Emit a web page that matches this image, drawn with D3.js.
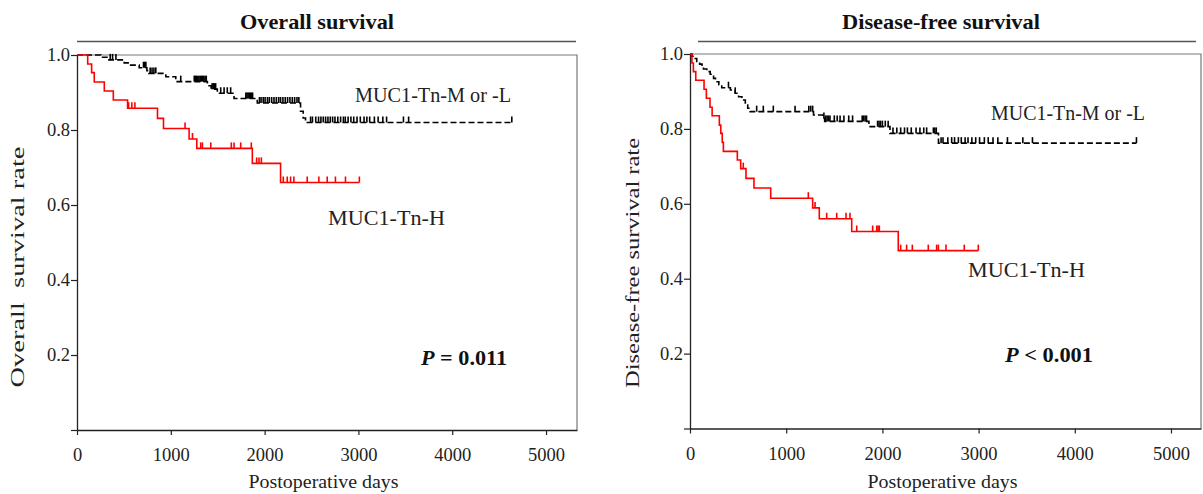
<!DOCTYPE html>
<html>
<head>
<meta charset="utf-8">
<script src="https://cdn.jsdelivr.net/npm/d3@7/dist/d3.min.js"></script>
<style>
  body { margin: 0; background: #fff; }
  svg { display: block; font-family: "Liberation Serif", "Times New Roman", serif; }
</style>
</head>
<body>
<div id="chart"></div>
<script>
// ---- data (days, survival rate) ----
// Overall survival
const os_high_times = [114, 156, 184, 291, 387, 539, 858, 922, 1195, 1277, 1869, 2170]
const os_high_surv  = [0.976, 0.953, 0.928, 0.904, 0.88, 0.858, 0.831, 0.804, 0.776, 0.751, 0.711, 0.66]
const os_high_censor = [550, 585, 617, 1152, 1231, 1319, 1337, 1426, 1645, 1674, 1745, 1858, 1915, 1940, 1965,
                        2199, 2241, 2277, 2312, 2454, 2578, 2667, 2755, 2862, 3010]
const os_high_end = 3010

const os_low_times = [255, 330, 503, 545, 663, 745, 765, 947, 1053, 1390, 1430, 1496, 1674, 1922, 2383, 2411, 2436]
const os_low_surv  = [0.994, 0.987, 0.979, 0.973, 0.966, 0.958, 0.951, 0.942, 0.929, 0.918, 0.909, 0.898, 0.884, 0.872, 0.85, 0.832, 0.82]
const os_low_censor = [354, 379, 415, 709, 722, 734, 780, 800, 820, 840, 1106, 1250, 1262, 1275, 1288, 1300, 1313, 1326,
                       1340, 1352, 1365, 1378, 1440, 1452, 1465, 1478, 1532, 1568, 1602, 1638, 1800, 1812, 1824, 1836,
                       1848, 1860, 1872, 1945, 1962, 1985, 2005, 2030, 2050, 2075, 2100, 2125, 2150, 2170, 2195, 2220,
                       2245, 2270, 2295, 2320, 2345, 2365, 2490, 2510, 2545, 2575, 2600, 2625, 2650, 2675, 2700, 2725,
                       2750, 2780, 2810, 2840, 2860, 2890, 2920, 2950, 2985, 3020, 3060, 3090, 3120, 3170, 3210, 3260,
                       3300, 3480, 3535, 4635]
const os_low_end = 4635

// Disease-free survival
const dfs_high_times = [20, 35, 60, 146, 170, 208, 230, 305, 320, 335, 347, 492, 527, 582, 665, 839, 1275, 1344, 1681, 2165]
const dfs_high_surv  = [0.976, 0.953, 0.93, 0.906, 0.882, 0.858, 0.835, 0.81, 0.788, 0.764, 0.74, 0.717, 0.694, 0.668,
                        0.642, 0.615, 0.589, 0.56, 0.526, 0.475]
const dfs_high_censor = [554, 1230, 1300, 1421, 1525, 1622, 1663, 1733, 1899, 1941, 1955, 1968, 2190, 2252, 2311,
                         2477, 2564, 2582, 2661, 2851, 2997]
const dfs_high_end = 2997

const dfs_low_times = [20, 40, 70, 100, 125, 140, 175, 210, 245, 265, 300, 330, 420, 470, 505, 540, 575, 600, 625,
                       1284, 1383, 1400, 1860, 2079, 2583]
const dfs_low_surv  = [0.994, 0.988, 0.98, 0.973, 0.966, 0.96, 0.953, 0.946, 0.935, 0.926, 0.918, 0.91, 0.904, 0.895,
                       0.886, 0.877, 0.864, 0.855, 0.846, 0.837, 0.828, 0.82, 0.806, 0.788, 0.762]
const dfs_low_censor = [400, 470, 693, 762, 866, 1092, 1235, 1255, 1275, 1392, 1410, 1425, 1440, 1455, 1500, 1530,
                        1560, 1600, 1650, 1690, 1790, 1805, 1820, 1835, 1950, 1965, 1980, 2000, 2030, 2060, 2110,
                        2150, 2190, 2230, 2260, 2300, 2350, 2390, 2430, 2460, 2530, 2545, 2560, 2610, 2630, 2680,
                        2720, 2750, 2790, 2820, 2860, 2890, 2930, 2970, 3010, 3060, 3100, 3150, 3200, 3300, 3460,
                        3560, 4641]
const dfs_low_end = 4641

const x_ticks = [0, 1000, 2000, 3000, 4000, 5000]
const y_ticks = [0, 0.2, 0.4, 0.6, 0.8, 1.0]

const width = 1203
const height = 494

const svg = d3.select("#chart")
    .append("svg")
    .attr("width", width)
    .attr("height", height)
    .attr("viewBox", [0, 0, width, height])

// survival value at time t for a step curve
function survAt(times, surv, t){
    const i = d3.bisectRight(times, t)
    return i === 0 ? 1 : surv[i-1]
}

// text helper, stretched to the width it has in the picture
function label(g, txt, x, y, size, len, anchor){
    return g.append("text")
        .attr("x", x)
        .attr("y", y)
        .attr("text-anchor", anchor || "start")
        .attr("textLength", len)
        .attr("lengthAdjust", "spacingAndGlyphs")
        .style("font-size", size + "px")
        .style("white-space", "pre")
        .attr("fill", "#222")
        .text(txt)
}

const drawPanel = function (cfg){
    const g = svg.append("g")

    const x = d3.scaleLinear().domain([0, cfg.xMax]).range([cfg.left, cfg.right])
    const y = d3.scaleLinear().domain([0, 1]).range([cfg.bottom, cfg.top])

    // title + rule under it
    label(g, cfg.title, cfg.titleX, 29, 21, cfg.titleLen, "middle")
        .style("font-weight", "bold")
        .attr("fill", "#111")

    g.append("line")
        .attr("x1", cfg.ruleX[0]).attr("x2", cfg.ruleX[1])
        .attr("y1", 41.5).attr("y2", 41.5)
        .attr("stroke", "#555")
        .attr("stroke-width", 1.5)

    // frame (top + right)
    g.append("path")
        .attr("d", `M${x(0)},${y(1)}H${x(cfg.xMax)}V${y(0)}`)
        .attr("fill", "none")
        .attr("stroke", "#777")
        .attr("stroke-width", 1.2)

    const xAxis = d3.axisBottom(x)
        .tickValues(x_ticks)
        .tickSize(5)
        .tickSizeOuter(0)
        .tickPadding(13)
        .tickFormat(d3.format("d"))

    const yAxis = d3.axisLeft(y)
        .tickValues(y_ticks)
        .tickSize(6)
        .tickSizeOuter(0)
        .tickPadding(1)
        .tickFormat(d => d === 0 ? "" : d3.format(".1f")(d))

    const gx = g.append("g")
        .attr("transform", `translate(0,${y(0)})`)
        .call(xAxis)
        .attr("font-family", null)
    gx.select(".domain").attr("stroke", "#222").attr("stroke-width", 1.3)
    gx.selectAll(".tick line").attr("stroke", "#222").attr("stroke-width", 1.2)
    gx.selectAll("text").style("font-size", "18.5px").attr("fill", "#222")

    const gy = g.append("g")
        .attr("transform", `translate(${x(0)},0)`)
        .call(yAxis)
        .attr("font-family", null)
    gy.select(".domain").attr("stroke", "#222").attr("stroke-width", 1.3)
    gy.selectAll(".tick line").attr("stroke", "#222").attr("stroke-width", 1.2)
    gy.selectAll("text").style("font-size", "18.5px").attr("fill", "#222")

    // axis titles
    label(g, "Postoperative days", (x(0) + x(5000)) / 2 + 12, 488, 18.5, 150, "middle")

    label(g, cfg.yLabel, 0, 0, 18.5, cfg.yLabelLen, "middle")
        .attr("transform", `translate(${cfg.yLabelX},${cfg.yLabelY}) rotate(-90)`)

    const line = d3.line()
        .x(d => x(d[0]))
        .y(d => y(d[1]))
        .curve(d3.curveStepAfter)

    cfg.series.forEach(s => {
        const pts = [[0, 1]].concat(s.times.map((t, i) => [t, s.surv[i]]))
        pts.push([s.end, s.surv[s.surv.length - 1]])

        g.append("path")
            .datum(pts)
            .attr("fill", "none")
            .attr("stroke", s.color)
            .attr("stroke-width", 1.6)
            .attr("stroke-dasharray", s.dash)
            .attr("d", line)

        g.append("g")
            .selectAll("line")
            .data(s.censor)
            .enter()
            .append("line")
            .attr("x1", d => x(d)).attr("x2", d => x(d))
            .attr("y1", d => y(survAt(s.times, s.surv, d)))
            .attr("y2", d => y(survAt(s.times, s.surv, d)) - 6)
            .attr("stroke", s.color)
            .attr("stroke-width", 1.6)
    })

    // group labels and p value
    cfg.labels.forEach(l => {
        label(g, l.text, l.x, l.y, 20, l.len)
    })

    const p = label(g, "", cfg.pPos[0], cfg.pPos[1], 22, cfg.pLen)
        .style("font-weight", "bold")
        .attr("fill", "#111")
    p.append("tspan").style("font-style", "italic").text("P")
    p.append("tspan").text(cfg.pText)
}

drawPanel({
    title: "Overall survival",
    titleX: 317, titleLen: 154,
    ruleX: [77, 576],
    left: 77, right: 577, top: 55, bottom: 430,
    xMax: 5330,
    yLabel: "Overall  survival rate",
    yLabelX: 24, yLabelY: 267, yLabelLen: 241,
    series: [
        {times: os_low_times, surv: os_low_surv, censor: os_low_censor, end: os_low_end, color: "#000", dash: "6,3"},
        {times: os_high_times, surv: os_high_surv, censor: os_high_censor, end: os_high_end, color: "#ff0000", dash: null}
    ],
    labels: [
        {text: "MUC1-Tn-M or -L", x: 355, y: 102, len: 156},
        {text: "MUC1-Tn-H", x: 328, y: 225, len: 117}
    ],
    pPos: [421, 365], pLen: 86,
    pText: " = 0.011"
})

drawPanel({
    title: "Disease-free survival",
    titleX: 941, titleLen: 198,
    ruleX: [698, 1196],
    left: 690, right: 1201, top: 54, bottom: 428.5,
    xMax: 5312,
    yLabel: "Disease-free survival rate",
    yLabelX: 639, yLabelY: 263, yLabelLen: 250,
    series: [
        {times: dfs_low_times, surv: dfs_low_surv, censor: dfs_low_censor, end: dfs_low_end, color: "#000", dash: "6,3"},
        {times: dfs_high_times, surv: dfs_high_surv, censor: dfs_high_censor, end: dfs_high_end, color: "#ff0000", dash: null}
    ],
    labels: [
        {text: "MUC1-Tn-M or -L", x: 991, y: 120, len: 154},
        {text: "MUC1-Tn-H", x: 968, y: 277, len: 117}
    ],
    pPos: [1005, 362], pLen: 88,
    pText: " < 0.001"
})
</script>
</body>
</html>
